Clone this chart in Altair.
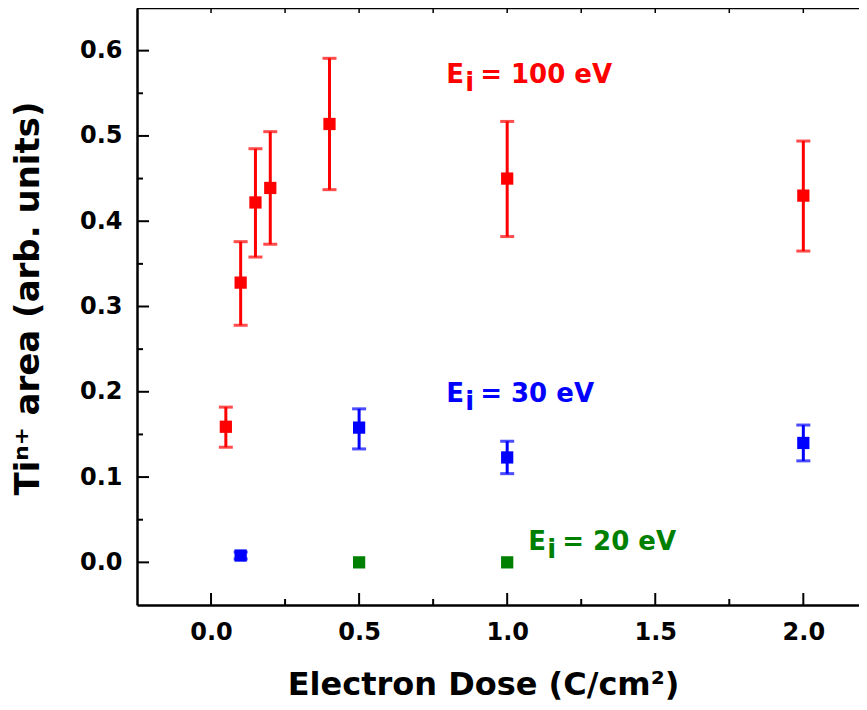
import altair as alt
import pandas as pd

# ---- data ----
red_x = [0.05, 0.1, 0.15, 0.2, 0.4, 1.0, 2.0]
red_y = [0.159, 0.328, 0.422, 0.439, 0.514, 0.450, 0.430]
red_lo = [0.135, 0.278, 0.358, 0.373, 0.437, 0.382, 0.365]
red_hi = [0.182, 0.376, 0.485, 0.505, 0.591, 0.517, 0.494]

blue_x = [0.1, 0.5, 1.0, 2.0]
blue_y = [0.008, 0.158, 0.123, 0.140]
blue_lo = [0.004, 0.133, 0.104, 0.119]
blue_hi = [0.012, 0.180, 0.142, 0.161]

green_x = [0.5, 1.0]
green_y = [0.0, 0.0]

label_rest = ["= 100 eV", "= 30 eV", "= 20 eV"]
label_x = [0.794, 0.794, 1.071]
label_y = [0.5625, 0.1875, 0.014]
label_color = ["#ff0000", "#0000ff", "#008000"]

x_major = [0.0, 0.5, 1.0, 1.5, 2.0]
x_minor = [0.25, 0.75, 1.25, 1.75]
x_top = [0.0, 0.25, 0.5, 0.75, 1.0, 1.25, 1.5, 1.75, 2.0]
y_major = [0.0, 0.1, 0.2, 0.3, 0.4, 0.5, 0.6]
y_minor = [0.05, 0.15, 0.25, 0.35, 0.45, 0.55]

W, H = 722, 597
FONT = "DejaVu Sans"

series = []
for name, xs, ys, lo, hi in [("r", red_x, red_y, red_lo, red_hi),
                             ("b", blue_x, blue_y, blue_lo, blue_hi)]:
    for a, b, c, d in zip(xs, ys, lo, hi):
        series.append({"s": name, "x": a, "y": b, "lo": c, "hi": d})
for a, b in zip(green_x, green_y):
    series.append({"s": "g", "x": a, "y": b, "lo": b, "hi": b})
df = pd.DataFrame(series)
df_err = df[df.s != "g"]

color_scale = alt.Scale(domain=["r", "b", "g"], range=["#ff0000", "#0000ff", "#008000"])
xscale = alt.Scale(domain=[-0.25, 2.188], nice=False, zero=False)
yscale = alt.Scale(domain=[-0.05, 0.65], nice=False, zero=False)

xaxis = alt.Axis(values=x_major, format=".1f", tickSize=0, labelPadding=15,
                 domainColor="black", domainWidth=2.5, grid=False,
                 labelFont=FONT, labelFontSize=24, labelFontWeight="bold", labelColor="black",
                 title="Electron Dose (C/cm\u00b2)", titleFont=FONT, titleFontSize=32,
                 titleFontWeight="bold", titleColor="black", titlePadding=25,
                 titleX=346, titleAlign="center")
yaxis = alt.Axis(values=y_major, format=".1f", tickSize=0, labelPadding=15,
                 domainColor="black", domainWidth=2.5, grid=False,
                 labelFont=FONT, labelFontSize=24, labelFontWeight="bold", labelColor="black",
                 title="Ti\u207f\u207a area (arb. units)", titleFont=FONT, titleFontSize=34,
                 titleFontWeight="bold", titleColor="black", titlePadding=34,
                 titleY=290)


def X(f):
    return alt.X(f, type="quantitative", scale=xscale, axis=xaxis)


def Y(f):
    return alt.Y(f, type="quantitative", scale=yscale, axis=yaxis)


col = alt.Color("s:N", scale=color_scale, legend=None)

err = alt.Chart(df_err).mark_rule(strokeWidth=3).encode(
    x=X("x"), y=Y("lo"), y2="hi", color=col)
cap_hi = alt.Chart(df_err).mark_tick(orient="horizontal", size=14, thickness=3).encode(
    x=X("x"), y=Y("hi"), color=col)
cap_lo = alt.Chart(df_err).mark_tick(orient="horizontal", size=14, thickness=3).encode(
    x=X("x"), y=Y("lo"), color=col)
pts = alt.Chart(df).mark_square(size=150, opacity=1, filled=True).encode(
    x=X("x"), y=Y("y"), color=col)

lab_df = pd.DataFrame({"t": label_rest, "x": label_x, "y": label_y, "c": label_color})
txt = dict(align="left", baseline="alphabetic", font=FONT, fontSize=26, fontWeight="bold")
lab_E = alt.Chart(lab_df).mark_text(text="E", **txt).encode(
    x=X("x"), y=Y("y"), color=alt.Color("c:N", scale=None))
lab_i = alt.Chart(lab_df).mark_text(text="i", dx=19, dy=8, **txt).encode(
    x=X("x"), y=Y("y"), color=alt.Color("c:N", scale=None))
lab_r = alt.Chart(lab_df).mark_text(dx=34, **txt).encode(
    x=X("x"), y=Y("y"), text="t:N", color=alt.Color("c:N", scale=None))

# inward ticks and top frame
xmaj = alt.Chart(pd.DataFrame({"v": x_major})).mark_rule(color="black", strokeWidth=2).encode(
    x=X("v"), y=alt.value(H), y2=alt.value(H - 12))
xmin = alt.Chart(pd.DataFrame({"v": x_minor})).mark_rule(color="black", strokeWidth=2).encode(
    x=X("v"), y=alt.value(H), y2=alt.value(H - 6))
xtop = alt.Chart(pd.DataFrame({"v": x_top})).mark_rule(color="black", strokeWidth=1.5).encode(
    x=X("v"), y=alt.value(0), y2=alt.value(5))
ymaj = alt.Chart(pd.DataFrame({"v": y_major})).mark_rule(color="black", strokeWidth=2).encode(
    y=Y("v"), x=alt.value(0), x2=alt.value(12))
ymin = alt.Chart(pd.DataFrame({"v": y_minor})).mark_rule(color="black", strokeWidth=2).encode(
    y=Y("v"), x=alt.value(0), x2=alt.value(6))
topline = alt.Chart(pd.DataFrame({"v": [0]})).mark_rule(color="black", strokeWidth=2.5).encode(
    x=alt.value(0), x2=alt.value(W), y=alt.value(0))

chart = alt.layer(err, cap_hi, cap_lo, pts, lab_E, lab_i, lab_r,
                  xmaj, xmin, xtop, ymaj, ymin, topline).properties(
    width=W, height=H,
    autosize=alt.AutoSizeParams(type="none"),
    padding={"left": 129, "top": 0, "right": 0, "bottom": 97},
    background="white",
).configure_view(stroke=None)

chart.save("out.html", embed_options={"renderer": "svg", "actions": False})
